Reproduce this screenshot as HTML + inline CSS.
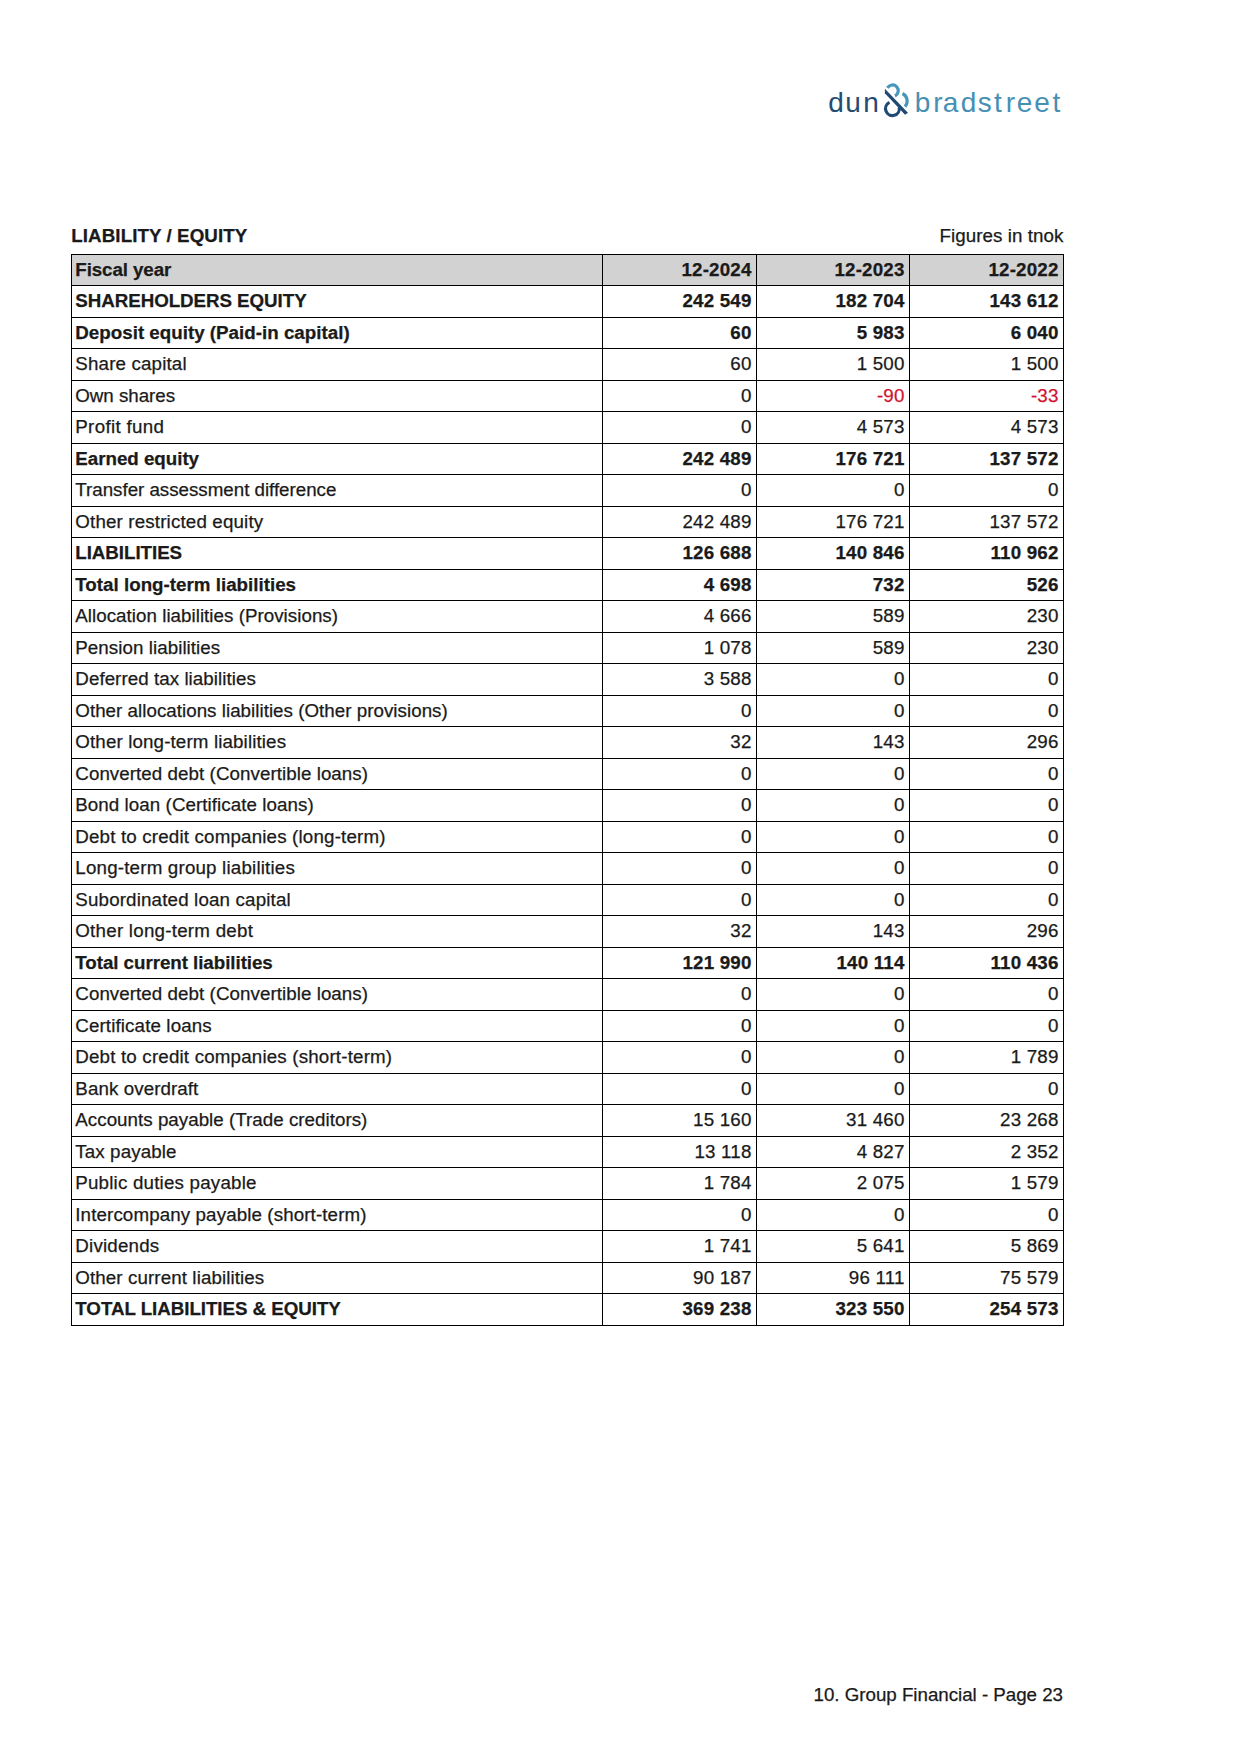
<!DOCTYPE html>
<html lang="en">
<head>
<meta charset="utf-8">
<title>Group Financial - Liability / Equity</title>
<style>
html,body{margin:0;padding:0;background:#fff;}
body{width:1241px;height:1754px;position:relative;overflow:hidden;font-family:"Liberation Sans",sans-serif;color:#1a1a1a;font-size:18.75px;}
.logo{position:absolute;left:820px;top:75px;width:260px;height:50px;}
.title,.unit,.footer{-webkit-text-stroke:0.25px;}
.title{position:absolute;left:71.3px;letter-spacing:0.08px;top:225px;font-weight:bold;font-size:18.75px;line-height:22px;white-space:nowrap;}
.unit{position:absolute;right:177.7px;letter-spacing:0.05px;top:225px;font-size:18.75px;line-height:22px;white-space:nowrap;}
.footer{position:absolute;right:178px;letter-spacing:-0.025px;top:1684px;font-size:18.75px;line-height:22px;white-space:nowrap;}
table{position:absolute;left:71px;top:254px;width:993px;border-collapse:collapse;table-layout:fixed;}
col.c0{width:531px}col.c1{width:154px}col.c2{width:153px}col.c3{width:154px}
tr{height:31px;}tr:nth-child(even){height:32px;}
td{-webkit-text-stroke:0.25px;border:1px solid #000;padding:0 4.4px 0 3.3px;line-height:30px;font-size:18.75px;white-space:nowrap;overflow:hidden;vertical-align:top;box-sizing:border-box;}
td.n{text-align:right;letter-spacing:0.2px;}
td.neg{color:#cf1531;}
tr.b td{font-weight:bold;}
tr.hd td{background:#d2d2d2;}
</style>
</head>
<body>
<svg class="logo" viewBox="0 0 260 50" role="img" aria-label="dun &amp; bradstreet">
<text x="8.23 25.23 43.14" y="36.6" font-family="'Liberation Sans',sans-serif" font-size="28" fill="#244c72">dun</text>
<g fill="none" stroke-width="3.2">
<path d="M67.43 12.84A5.8 5.8 0 1 1 74.99 20.95" stroke="#4797ba"/>
<path d="M82.44 18.48A8.37 8.37 0 0 1 84.99 31.60" stroke="#4797ba"/>
<path d="M69.53 27.40A6.9 6.9 0 1 0 79.25 32.45" stroke="#1f4a74"/>
</g>
<polygon points="64.87,13.81 87.94,37.84 85.03,39.77 64.87,18.16" fill="#1f4a74"/>
<text x="94.8 113.14 122.87 140.73 157.67 173.95 185.64 196.64 214.24 232.55" y="36.6" font-family="'Liberation Sans',sans-serif" font-size="28" fill="#4690b4">bradstreet</text>
</svg>
<div class="title">LIABILITY / EQUITY</div>
<div class="unit">Figures in tnok</div>
<table>
<colgroup><col class="c0"><col class="c1"><col class="c2"><col class="c3"></colgroup>
<tbody>
<tr class="hd b"><td class="l" style="letter-spacing:-0.099px">Fiscal year</td><td class="n">12-2024</td><td class="n">12-2023</td><td class="n">12-2022</td></tr>
<tr class="b"><td class="l" style="letter-spacing:-0.054px">SHAREHOLDERS EQUITY</td><td class="n">242 549</td><td class="n">182 704</td><td class="n">143 612</td></tr>
<tr class="b"><td class="l" style="letter-spacing:0.011px">Deposit equity (Paid-in capital)</td><td class="n">60</td><td class="n">5 983</td><td class="n">6 040</td></tr>
<tr class=""><td class="l" style="letter-spacing:0.157px">Share capital</td><td class="n">60</td><td class="n">1 500</td><td class="n">1 500</td></tr>
<tr class=""><td class="l" style="letter-spacing:-0.030px">Own shares</td><td class="n">0</td><td class="n neg">-90</td><td class="n neg">-33</td></tr>
<tr class=""><td class="l" style="letter-spacing:0.321px">Profit fund</td><td class="n">0</td><td class="n">4 573</td><td class="n">4 573</td></tr>
<tr class="b"><td class="l" style="letter-spacing:-0.020px">Earned equity</td><td class="n">242 489</td><td class="n">176 721</td><td class="n">137 572</td></tr>
<tr class=""><td class="l" style="letter-spacing:-0.018px">Transfer assessment difference</td><td class="n">0</td><td class="n">0</td><td class="n">0</td></tr>
<tr class=""><td class="l" style="letter-spacing:0.154px">Other restricted equity</td><td class="n">242 489</td><td class="n">176 721</td><td class="n">137 572</td></tr>
<tr class="b"><td class="l" style="letter-spacing:-0.050px">LIABILITIES</td><td class="n">126 688</td><td class="n">140 846</td><td class="n">110 962</td></tr>
<tr class="b"><td class="l" style="letter-spacing:0.008px">Total long-term liabilities</td><td class="n">4 698</td><td class="n">732</td><td class="n">526</td></tr>
<tr class=""><td class="l" style="letter-spacing:0.034px">Allocation liabilities (Provisions)</td><td class="n">4 666</td><td class="n">589</td><td class="n">230</td></tr>
<tr class=""><td class="l" style="letter-spacing:0.059px">Pension liabilities</td><td class="n">1 078</td><td class="n">589</td><td class="n">230</td></tr>
<tr class=""><td class="l" style="letter-spacing:0.055px">Deferred tax liabilities</td><td class="n">3 588</td><td class="n">0</td><td class="n">0</td></tr>
<tr class=""><td class="l" style="letter-spacing:0.031px">Other allocations liabilities (Other provisions)</td><td class="n">0</td><td class="n">0</td><td class="n">0</td></tr>
<tr class=""><td class="l" style="letter-spacing:0.130px">Other long-term liabilities</td><td class="n">32</td><td class="n">143</td><td class="n">296</td></tr>
<tr class=""><td class="l" style="letter-spacing:0.059px">Converted debt (Convertible loans)</td><td class="n">0</td><td class="n">0</td><td class="n">0</td></tr>
<tr class=""><td class="l" style="letter-spacing:0.064px">Bond loan (Certificate loans)</td><td class="n">0</td><td class="n">0</td><td class="n">0</td></tr>
<tr class=""><td class="l" style="letter-spacing:0.168px">Debt to credit companies (long-term)</td><td class="n">0</td><td class="n">0</td><td class="n">0</td></tr>
<tr class=""><td class="l" style="letter-spacing:0.187px">Long-term group liabilities</td><td class="n">0</td><td class="n">0</td><td class="n">0</td></tr>
<tr class=""><td class="l" style="letter-spacing:0.158px">Subordinated loan capital</td><td class="n">0</td><td class="n">0</td><td class="n">0</td></tr>
<tr class=""><td class="l" style="letter-spacing:0.240px">Other long-term debt</td><td class="n">32</td><td class="n">143</td><td class="n">296</td></tr>
<tr class="b"><td class="l" style="letter-spacing:-0.048px">Total current liabilities</td><td class="n">121 990</td><td class="n">140 114</td><td class="n">110 436</td></tr>
<tr class=""><td class="l" style="letter-spacing:0.059px">Converted debt (Convertible loans)</td><td class="n">0</td><td class="n">0</td><td class="n">0</td></tr>
<tr class=""><td class="l" style="letter-spacing:0.121px">Certificate loans</td><td class="n">0</td><td class="n">0</td><td class="n">0</td></tr>
<tr class=""><td class="l" style="letter-spacing:0.175px">Debt to credit companies (short-term)</td><td class="n">0</td><td class="n">0</td><td class="n">1 789</td></tr>
<tr class=""><td class="l" style="letter-spacing:0.083px">Bank overdraft</td><td class="n">0</td><td class="n">0</td><td class="n">0</td></tr>
<tr class=""><td class="l" style="letter-spacing:0.028px">Accounts payable (Trade creditors)</td><td class="n">15 160</td><td class="n">31 460</td><td class="n">23 268</td></tr>
<tr class=""><td class="l" style="letter-spacing:0.107px">Tax payable</td><td class="n">13 118</td><td class="n">4 827</td><td class="n">2 352</td></tr>
<tr class=""><td class="l" style="letter-spacing:0.197px">Public duties payable</td><td class="n">1 784</td><td class="n">2 075</td><td class="n">1 579</td></tr>
<tr class=""><td class="l" style="letter-spacing:0.112px">Intercompany payable (short-term)</td><td class="n">0</td><td class="n">0</td><td class="n">0</td></tr>
<tr class=""><td class="l" style="letter-spacing:0.186px">Dividends</td><td class="n">1 741</td><td class="n">5 641</td><td class="n">5 869</td></tr>
<tr class=""><td class="l" style="letter-spacing:0.100px">Other current liabilities</td><td class="n">90 187</td><td class="n">96 111</td><td class="n">75 579</td></tr>
<tr class="b"><td class="l" style="letter-spacing:-0.045px">TOTAL LIABILITIES &amp; EQUITY</td><td class="n">369 238</td><td class="n">323 550</td><td class="n">254 573</td></tr></tbody>
</table>
<div class="footer">10. Group Financial - Page 23</div>
</body>
</html>
